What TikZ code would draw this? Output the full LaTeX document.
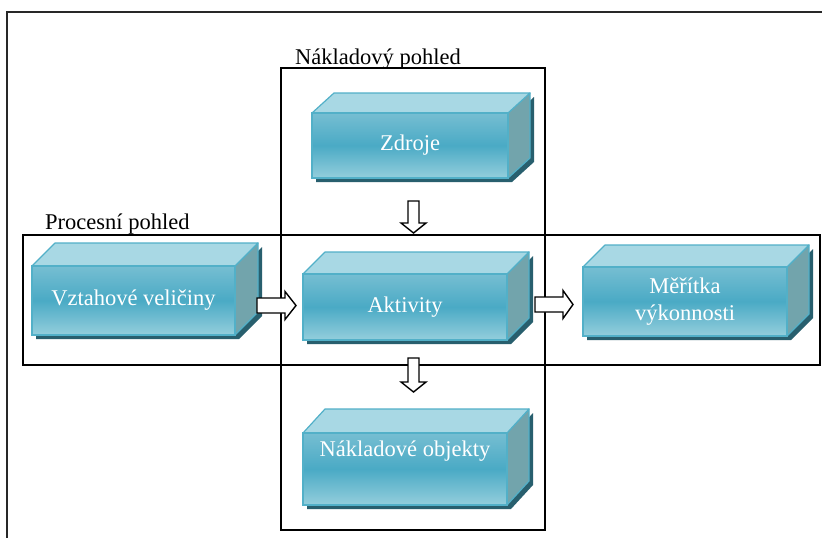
\documentclass[tikz,border=0pt]{standalone}
\usepackage{fontspec}
\setmainfont{Liberation Serif}
\usetikzlibrary{calc}
\definecolor{fgtop}{RGB}{118,190,210}
\definecolor{fgmid}{RGB}{74,170,197}
\definecolor{fgbot}{RGB}{148,206,220}
\definecolor{cubetop}{RGB}{168,216,228}
\definecolor{cubeside}{RGB}{114,164,172}
\definecolor{cubeedge}{RGB}{82,176,200}
\definecolor{cubeshadow}{RGB}{40,95,110}
\definecolor{framegray}{RGB}{40,40,40}
\tikzset{
  frontface/.style={draw=cubeedge, line width=1.2pt, top color=fgtop, bottom color=fgbot, middle color=fgmid,
    text=white, font=\fontsize{22.5}{27}\selectfont, align=center, inner sep=0pt},
  topface/.style={draw=cubeedge, line width=1.2pt, fill=cubetop, line join=round},
  sideface/.style={draw=cubeedge, line width=1.2pt, fill=cubeside, line join=round},
  shadowface/.style={fill=cubeshadow},
  viewbox/.style={draw=black, line width=1.3pt},
  viewlabel/.style={anchor=base west, font=\fontsize{22.5}{27}\selectfont, inner sep=0pt},
  blockarr/.style={draw=black, line width=1.4pt, fill=white, line join=miter},
  outerframe/.style={draw=framegray, line width=2pt},
}
% name, x1, y1, x2, y2, depth dx, depth dy (up), text
\newcommand\cubebox[8]{%
  \fill[shadowface] (#2+4,#3+4) -- (#4+4,#3+4) -- (#4+#6+4,#3-#7+4) -- (#4+#6+4,#5-#7+4) -- (#4+4,#5+4) -- (#2+4,#5+4) -- cycle;
  \draw[sideface] (#4,#3) -- (#4+#6,#3-#7) -- (#4+#6,#5-#7) -- (#4,#5) -- cycle;
  \draw[topface] (#2,#3) -- (#2+#6,#3-#7) -- (#4+#6,#3-#7) -- (#4,#3) -- cycle;
  \node[frontface, minimum width=#4-#2, minimum height=#5-#3] (#1) at ({(#2+#4)/2},{(#3+#5)/2}) {#8};
}
% cx, ytop, yhead, ytip
\newcommand\blockdown[4]{%
  \draw[blockarr] (#1-5.5,#2) -- (#1+5.5,#2) -- (#1+5.5,#3) -- (#1+12.5,#3) -- (#1,#4) -- (#1-12.5,#3) -- (#1-5.5,#3) -- cycle;
}
% cy, xstart, xhead, xtip
\newcommand\blockright[4]{%
  \draw[blockarr] (#2,#1-7.5) -- (#3,#1-7.5) -- (#3,#1-14) -- (#4,#1) -- (#3,#1+14) -- (#3,#1+7.5) -- (#2,#1+7.5) -- cycle;
}
\begin{document}
\begin{tikzpicture}[x=1pt,y=-1pt]
\useasboundingbox (0,0) rectangle (822,538);
\fill[white] (0,0) rectangle (822,538);
% outer frame
\draw[outerframe] (830,12) -- (7,12) -- (7,545);
% views
\draw[viewbox] (281,68) rectangle (545,530);
\draw[viewbox] (23,235) rectangle (820,365);
\node[viewlabel] (costlabel) at (295,64) {Nákladový pohled};
\node[viewlabel] (proclabel) at (45,229) {Procesní pohled};
% cubes
\cubebox{zdroje}{312}{113}{508}{178}{22}{20}{Zdroje}
\cubebox{vztah}{32}{266}{235}{335}{23}{23}{Vztahové veličiny}
\cubebox{aktiv}{303}{274}{507}{340}{22}{22}{Aktivity}
\cubebox{meritka}{583}{267}{787}{336}{22}{22}{Měřítka\\výkonnosti}
\cubebox{objekty}{303}{433}{507}{505}{22}{24}{Nákladové objekty\\[14pt]\mbox{}}
% block arrows
\blockdown{413.5}{201}{223}{233}
\blockdown{413.5}{358}{382}{392}
\blockright{305.5}{257}{285}{296}
\blockright{304.5}{535}{563}{573}
\end{tikzpicture}
\end{document}
